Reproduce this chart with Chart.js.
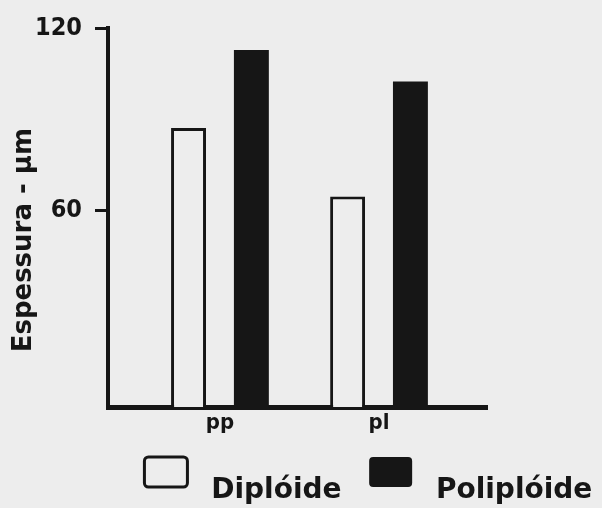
<!DOCTYPE html>
<html>
<head>
<meta charset="utf-8">
<title>Espessura - diplóide x poliplóide</title>
<script src="https://cdn.jsdelivr.net/npm/chart.js@4.4.1/dist/chart.umd.min.js"></script>
<style>
  html, body { margin: 0; padding: 0; background: #ededed; }
  #viz { display: block; }
</style>
</head>
<body>
<canvas id="viz" width="602" height="508"></canvas>
<script>
// values (µm)
const groups = ['pp', 'pl'];
const diploide = [87.1, 64.6];
const poliploide = [112.8, 102.4];
const yTicks = [60, 120];
const seriesNames = ['Diplóide', 'Poliplóide'];
const yTitle = 'Espessura - μm';

const INK = '#161616';
const PAPER = '#ededed';

// the hand drawn axis is not quite linear down to the baseline,
// so the value axis starts a little under 0
const Y_MIN = -4.56;
const Y_MAX = 120;

function toPoints(values) {
  return values.map((v, i) => ({x: i, y: v}));
}

// legend clips to its own box, but the names hang a bit lower than the boxes
const legendClip = {
  id: 'legendClip',
  beforeDraw(chart) {
    if (chart.legend) chart.legend.bottom = chart.height;
  }
};

const ctx = document.getElementById('viz');

new Chart(ctx, {
  type: 'bar',
  data: {
    datasets: [
      {
        label: seriesNames[0],
        data: toPoints(diploide),
        backgroundColor: PAPER,
        borderColor: INK,
        borderWidth: 3,
        base: Y_MIN
      },
      {
        label: seriesNames[1],
        data: toPoints(poliploide),
        backgroundColor: INK,
        borderColor: INK,
        borderWidth: 0,
        base: Y_MIN
      }
    ]
  },
  plugins: [legendClip],
  options: {
    responsive: false,
    animation: false,
    categoryPercentage: 0.79,
    barPercentage: 0.556,
    layout: {
      padding: {top: 25, right: -18, bottom: 11, left: 0}
    },
    plugins: {
      legend: {
        position: 'bottom',
        align: 'end',
        labels: {
          color: INK,
          boxWidth: 43,
          boxHeight: 30,
          padding: 17,
          useBorderRadius: true,
          borderRadius: 4,
          font: {family: 'DejaVu Sans', weight: 'bold', size: 28, lineHeight: 0.66},
          // empty first line pushes the name below the box centre, like the original
          generateLabels: chart =>
            Chart.defaults.plugins.legend.labels.generateLabels(chart)
              .map(item => Object.assign(item, {text: ['', ' ' + item.text]}))
        }
      }
    },
    scales: {
      x: {
        type: 'linear',
        offset: false,
        min: -0.704,
        max: 1.679,
        grid: {display: false},
        border: {display: true, color: INK, width: 5},
        afterBuildTicks: s => { s.ticks = groups.map((g, i) => ({value: i})); },
        afterFit: s => { s.height = 33; },
        ticks: {
          color: INK,
          padding: -5,
          autoSkip: false,
          maxRotation: 0,
          font: {family: 'DejaVu Sans Condensed', weight: 'bold', size: 22},
          callback: v => groups[v]
        }
      },
      y: {
        min: Y_MIN,
        max: Y_MAX,
        afterBuildTicks: s => { s.ticks = yTicks.map(v => ({value: v})); },
        afterFit: s => { s.width = 108; },
        grid: {
          display: true,
          drawOnChartArea: false,
          drawTicks: true,
          tickLength: 13,
          lineWidth: 3,
          color: INK
        },
        border: {display: true, color: INK, width: 4},
        ticks: {
          color: INK,
          padding: 13,
          font: {family: 'DejaVu Sans Condensed', weight: 'bold', size: 25}
        },
        title: {
          display: true,
          // trailing spaces move the title down a little, it sits below the middle in the original
          text: yTitle + '     ',
          color: INK,
          padding: {top: 9, bottom: 0},
          font: {family: 'DejaVu Sans', weight: 'bold', size: 26}
        }
      },
      // empty axis on the right, keeps the plot narrow while the legend uses the full width
      yRight: {
        position: 'right',
        display: true,
        grid: {display: false},
        border: {display: false},
        ticks: {display: false},
        afterFit: s => { s.width = 133; }
      }
    }
  }
});
</script>
</body>
</html>
